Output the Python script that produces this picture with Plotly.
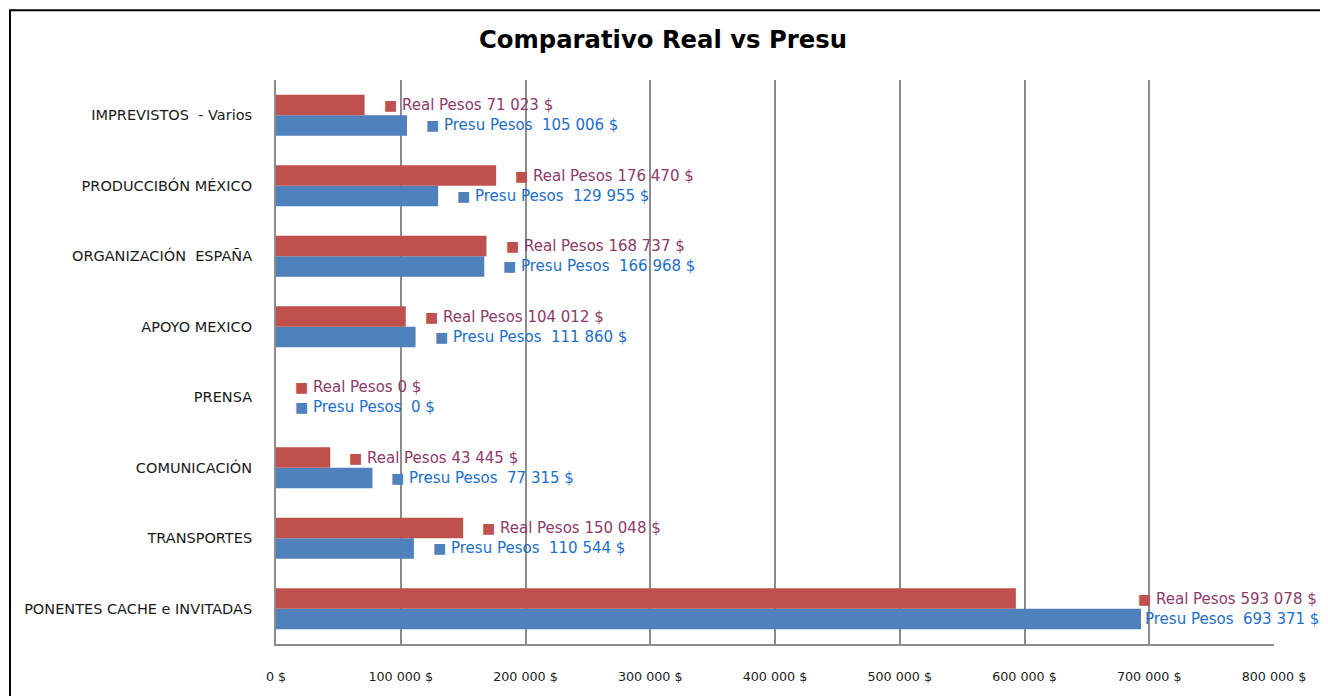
import plotly.graph_objects as go

categories = [
    "PONENTES CACHE e INVITADAS",
    "TRANSPORTES",
    "COMUNICACIÓN",
    "PRENSA",
    "APOYO MEXICO",
    "ORGANIZACIÓN  ESPAÑA",
    "PRODUCCIBÓN MÉXICO",
    "IMPREVISTOS  - Varios",
]
real_pesos = [593078, 150048, 43445, 0, 104012, 168737, 176470, 71023]
presu_pesos = [693371, 110544, 77315, 0, 111860, 166968, 129955, 105006]
tick_values = [0, 100000, 200000, 300000, 400000, 500000, 600000, 700000, 800000]
tick_labels = ["0 $", "100 000 $", "200 000 $", "300 000 $", "400 000 $",
               "500 000 $", "600 000 $", "700 000 $", "800 000 $"]

RED = "#C0504D"
BLUE = "#4F81BD"
RED_TXT = "#8E3A6A"
BLUE_TXT = "#1A6FD0"
FONT = "DejaVu Sans"

# page body has an 8px margin, so the figure is drawn 8px smaller and offset
W, H = 1320, 688
ML, MR, MT, MB = 268, 54, 72, 50


def fmt(v):
    return f"{v:,}".replace(",", " ") + " $"


fig = go.Figure()
fig.add_trace(go.Bar(y=categories, x=presu_pesos, orientation="h", name="Presu Pesos",
                     marker=dict(color=BLUE, line=dict(width=0))))
fig.add_trace(go.Bar(y=categories, x=real_pesos, orientation="h", name="Real Pesos",
                     marker=dict(color=RED, line=dict(width=0))))

SQ = "<span style='font-size:14px;color:{c}'>■</span>"
annotations = []
for i, cat in enumerate(categories):
    crowded = max(real_pesos[i], presu_pesos[i]) > 600000
    # Excel pulled the labels of the largest group back so they fit in the chart
    r_anchor = max(real_pesos[i], presu_pesos[i]) if crowded else real_pesos[i]
    annotations.append(dict(
        x=r_anchor, y=cat, xref="x", yref="y", xanchor="left", yanchor="middle",
        xshift=-5 if crowded else 17, yshift=10, showarrow=False,
        text=SQ.format(c=RED) + f" Real Pesos {fmt(real_pesos[i])}",
        font=dict(family=FONT, size=15, color=RED_TXT)))
    annotations.append(dict(
        x=presu_pesos[i], y=cat, xref="x", yref="y", xanchor="left", yanchor="middle",
        xshift=-16 if crowded else 17, yshift=-10, showarrow=False,
        text=SQ.format(c=BLUE) + f" Presu Pesos\u00a0 {fmt(presu_pesos[i])}",
        font=dict(family=FONT, size=15, color=BLUE_TXT)))

fig.update_layout(
    width=W, height=H,
    margin=dict(l=ML, r=MR, t=MT, b=MB),
    paper_bgcolor="white", plot_bgcolor="white",
    barmode="group", bargap=0.42, bargroupgap=0,
    showlegend=False,
    title=dict(text="<b>Comparativo Real vs Presu</b>", x=(663 - 8) / W, xanchor="center",
               y=1 - 31 / H, yanchor="middle",
               font=dict(family=FONT, size=24.3, color="black")),
    annotations=annotations,
    font=dict(family=FONT, size=13, color="#1a1a1a"),
    xaxis=dict(range=[0, 800000], tickvals=tick_values, ticktext=tick_labels,
               showgrid=True, gridcolor="#8C8C8C", gridwidth=1.5,
               showline=True, linecolor="#8C8C8C", linewidth=1.5, zeroline=False,
               ticks="", ticklabelstandoff=20,
               tickfont=dict(family=FONT, size=12.7, color="#1a1a1a")),
    yaxis=dict(showline=True, linecolor="#8C8C8C", linewidth=2, showgrid=False,
               ticks="", ticklabelstandoff=19,
               tickfont=dict(family=FONT, size=14.5, color="#1a1a1a")),
    shapes=[dict(type="rect", xref="paper", yref="paper",
                 x0=(2 - ML) / (W - ML - MR), x1=(W + 30 - ML) / (W - ML - MR),
                 y0=-(MB + 30) / (H - MT - MB), y1=1 + (MT - 2) / (H - MT - MB),
                 line=dict(color="black", width=2), layer="below")],
)

fig.write_html("out.html")
